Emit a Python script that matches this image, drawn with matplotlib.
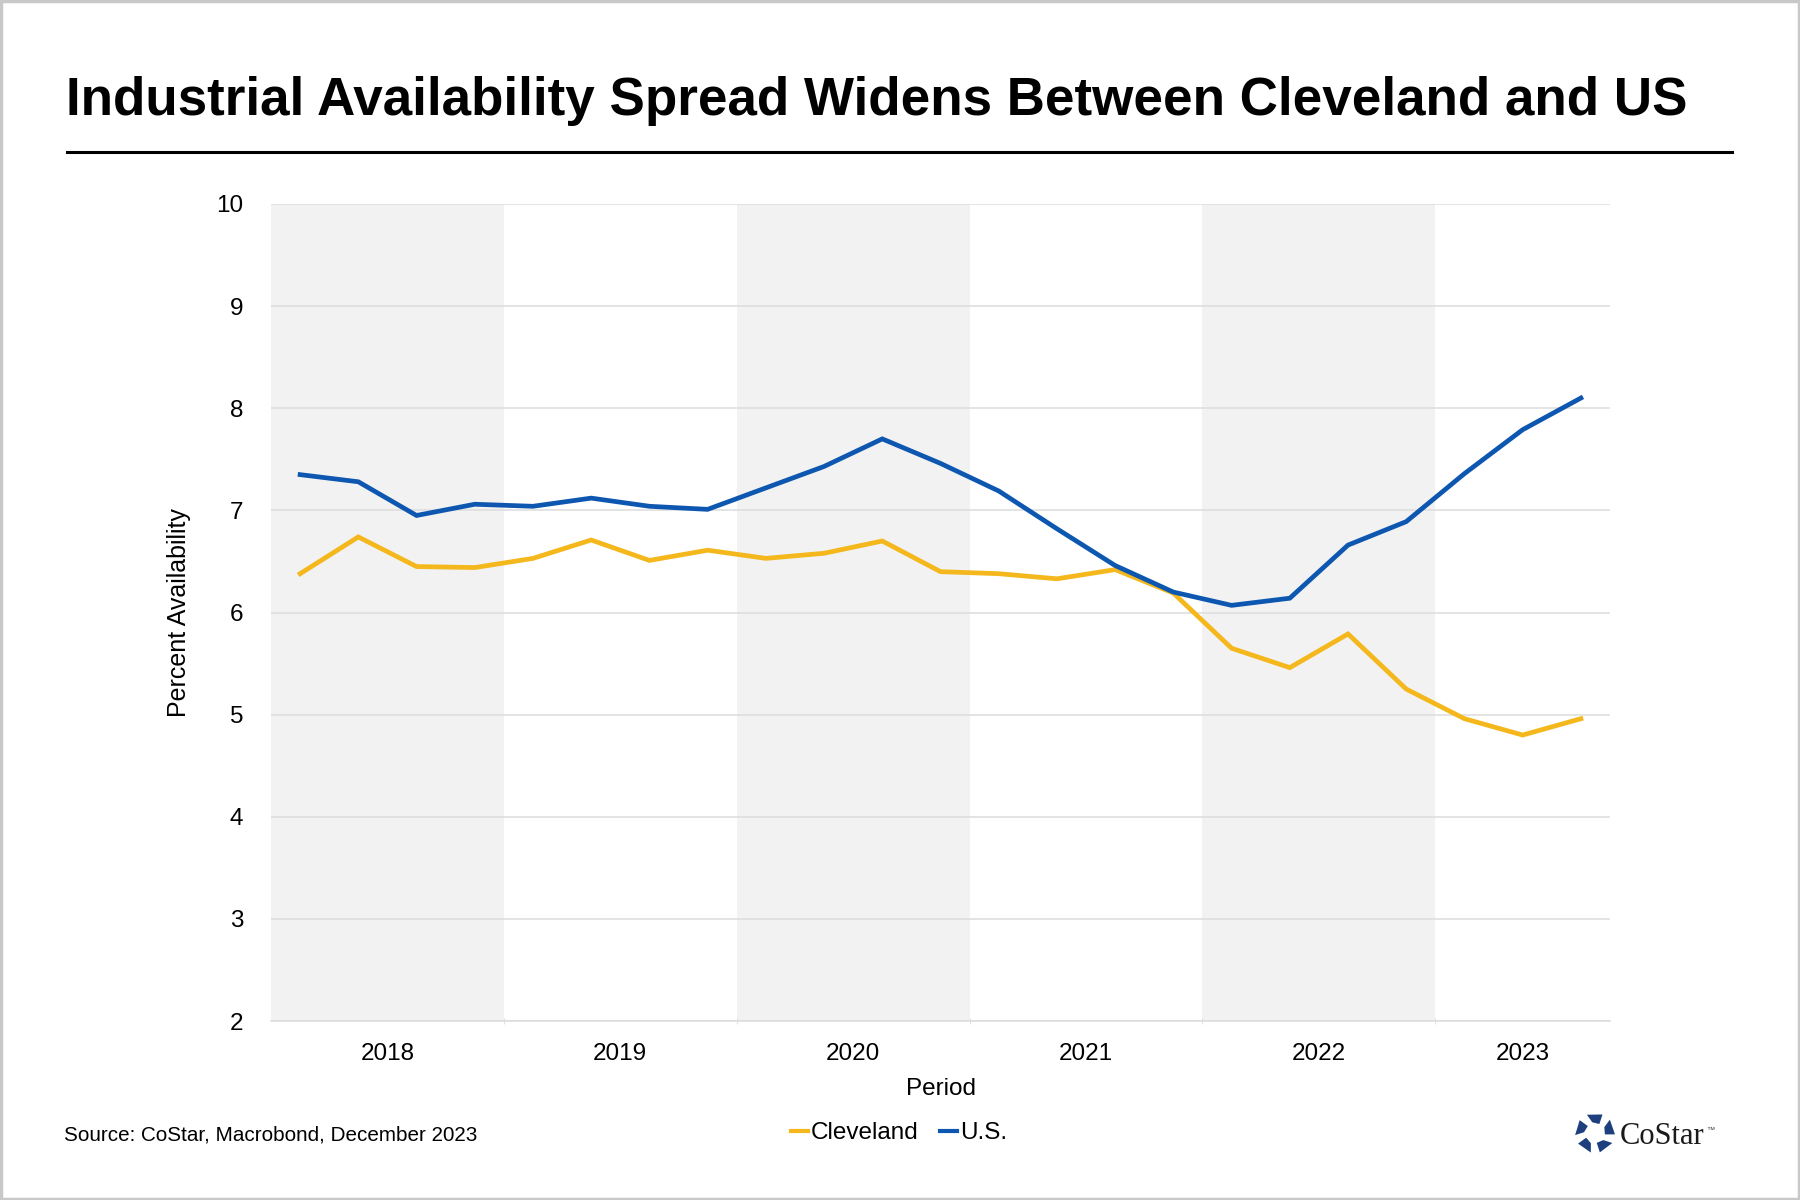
import matplotlib
matplotlib.use("Agg")
import matplotlib.pyplot as plt
import numpy as np
from matplotlib.patches import Rectangle, Polygon
from matplotlib.lines import Line2D

plt.rcParams['font.family'] = ['Liberation Sans', 'DejaVu Sans']

# ---------------- data ----------------
quarters = ['2018Q1', '2018Q2', '2018Q3', '2018Q4',
            '2019Q1', '2019Q2', '2019Q3', '2019Q4',
            '2020Q1', '2020Q2', '2020Q3', '2020Q4',
            '2021Q1', '2021Q2', '2021Q3', '2021Q4',
            '2022Q1', '2022Q2', '2022Q3', '2022Q4',
            '2023Q1', '2023Q2', '2023Q3']
cleveland = [6.38, 6.74, 6.45, 6.44, 6.53, 6.71, 6.51, 6.61,
             6.53, 6.58, 6.70, 6.40, 6.38, 6.33, 6.42, 6.19,
             5.65, 5.46, 5.79, 5.25, 4.96, 4.80, 4.96]
us = [7.35, 7.28, 6.95, 7.06, 7.04, 7.12, 7.04, 7.01,
      7.22, 7.43, 7.70, 7.46, 7.19, 6.82, 6.46, 6.20,
      6.07, 6.14, 6.66, 6.89, 7.36, 7.79, 8.10]
years = ['2018', '2019', '2020', '2021', '2022', '2023']
shaded_years = ['2018', '2020', '2022']
series_names = ['Cleveland', 'U.S.']

title = 'Industrial Availability Spread Widens Between Cleveland and US'
source = 'Source: CoStar, Macrobond, December 2023'

C_YEL = '#f4b71c'
C_BLU = '#0d57b0'
GRID = '#dcdcdc'

# ---------------- figure ----------------
W, H = 1800, 1200
fig = plt.figure(figsize=(18, 12), dpi=100)
fig.patch.set_facecolor('white')

def fx(px):
    return px / W

def fy(py):
    return 1 - py / H

ax = fig.add_axes([fx(271), fy(1021), fx(1610) - fx(271), fy(204) - fy(1021)])

x = np.arange(len(quarters))
qyear = [q[:4] for q in quarters]

# year bands
ax.set_xlim(-0.5, len(quarters) - 0.5)
ax.set_ylim(2, 10)
year_centers = []
boundaries = []
for yr in years:
    idx = [i for i, qy in enumerate(qyear) if qy == yr]
    lo, hi = idx[0] - 0.5, idx[-1] + 0.5
    year_centers.append((lo + hi) / 2)
    if idx[0] > 0:
        boundaries.append(lo)
    if yr in shaded_years:
        ax.axvspan(lo, hi, color='#f2f2f2', zorder=0, lw=0)

ax.set_yticks(np.arange(2, 11, 1))
ax.grid(axis='y', color=GRID, lw=1.1, zorder=1)
ax.set_axisbelow(True)

ax.plot(x, cleveland, color=C_YEL, lw=3.4, zorder=3, solid_joinstyle='miter')
ax.plot(x, us, color=C_BLU, lw=3.4, zorder=4, solid_joinstyle='miter')

for s in ['top', 'right', 'left']:
    ax.spines[s].set_visible(False)
ax.spines['bottom'].set_color(GRID)
ax.spines['bottom'].set_linewidth(1.1)

ax.set_xticks(year_centers)
ax.set_xticklabels(years)
ax.set_xticks(boundaries, minor=True)
ax.tick_params(axis='x', which='major', length=0, pad=16, labelsize=17.5, colors='black')
ax.tick_params(axis='x', which='minor', length=4, color=GRID, direction='inout')
ax.tick_params(axis='y', length=0, pad=20, labelsize=17.5, colors='black')

ax.set_xlabel('Period', fontsize=17.5)
ax.xaxis.set_label_coords(0.5, -0.07)
ax.set_ylabel('Percent Availability', fontsize=18)
ax.yaxis.set_label_coords(-0.06, 0.5)

# title and rule
fig.text(fx(66), fy(115), title, fontsize=38.2, fontweight='bold', ha='left', va='baseline')
fig.add_artist(Line2D([fx(67), fx(1732)], [fy(152), fy(152)], color='black', lw=2.2))

# source
fig.text(fx(64), fy(1135), source, fontsize=14.9, ha='left', va='center')

# legend
handles = [Line2D([], [], color=C_YEL, lw=3), Line2D([], [], color=C_BLU, lw=3)]
fig.legend(handles, series_names, loc='center', bbox_to_anchor=(fx(899), fy(1133)),
           ncol=2, frameon=False, fontsize=17.5, handlelength=0.7,
           handletextpad=0.1, columnspacing=0.9, borderpad=0, borderaxespad=0)

# logo
lax = fig.add_axes([fx(1573), fy(1155), fx(44), 44 / H])
lax.set_xlim(-1.1, 1.1)
lax.set_ylim(-1.1, 1.1)
lax.axis('off')
navy = '#1d3f7e'
for k in range(5):
    a = np.deg2rad(90 + 72 * k)
    pts = []
    for r, da in [(0.5, -26), (1.0, -22), (1.0, 24), (0.55, 14)]:
        ang = a + np.deg2rad(da)
        pts.append((r * np.cos(ang), r * np.sin(ang)))
    lax.add_patch(Polygon(pts, closed=True, color=navy, lw=0))
fig.text(fx(1620), fy(1144), 'CoStar', fontsize=22, family=['Liberation Serif', 'DejaVu Serif'],
         color='#1a1a1a', ha='left', va='baseline')
fig.text(fx(1706), fy(1132), '\u2122', fontsize=6, color='#444444', ha='left', va='baseline')

# outer border
fig.add_artist(Rectangle((0.0008, 0.0012), 0.9984, 0.9976, transform=fig.transFigure,
                         fill=False, edgecolor='#c8c8c8', lw=2.5))

fig.savefig('out.png', dpi=100, facecolor='white')
